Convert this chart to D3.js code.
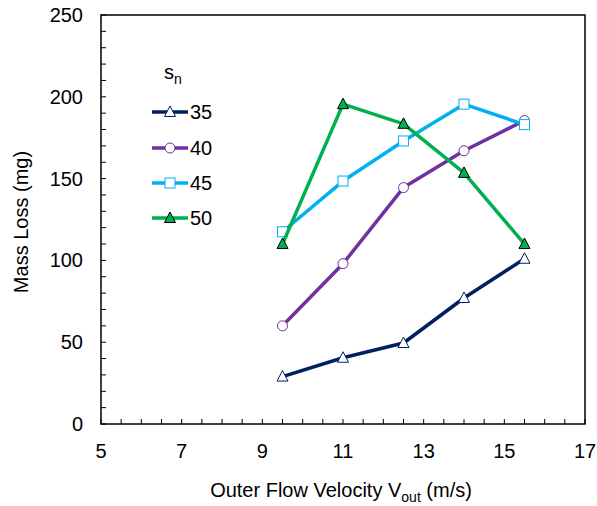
<!DOCTYPE html>
<html><head><meta charset="utf-8">
<script src="https://cdn.jsdelivr.net/npm/d3@7"></script>
<style>body{margin:0;background:#fff;} svg{display:block;font-family:"Liberation Sans",Arial,sans-serif;}</style>
</head><body>
<svg id="c" width="597" height="506"></svg>
<script>
const velocities = [9.5, 11, 12.5, 14, 15.5];
const sn35 = [29, 40.5, 49.5, 77, 101];
const sn40 = [60, 98, 144.5, 167, 185.5];
const sn45 = [117.5, 148.5, 173, 195.5, 183];
const sn50 = [110, 195.5, 183.5, 153.5, 110];
const seriesNames = ["35", "40", "45", "50"];
const xTicks = [5, 7, 9, 11, 13, 15, 17];
const yTicks = [0, 50, 100, 150, 200, 250];

const series = [
  {name: seriesNames[0], values: sn35, color: "#002060", marker: "tri", fill: "#fff"},
  {name: seriesNames[1], values: sn40, color: "#7030A0", marker: "circ", fill: "#fff"},
  {name: seriesNames[2], values: sn45, color: "#00B0F0", marker: "sq", fill: "#fff"},
  {name: seriesNames[3], values: sn50, color: "#00B050", marker: "tri", fill: "#00B050", stroke: "#000"}
];

const svg = d3.select("#c");
const L = 101, R = 585, T = 15, B = 424;
const x = d3.scaleLinear().domain([5, 17]).range([L, R]);
const y = d3.scaleLinear().domain([0, 250]).range([B, T]);

// minor ticks
const g = svg.append("g");
d3.range(5, 17.01, 0.5).forEach(v => {
  g.append("line").attr("x1", x(v)).attr("x2", x(v)).attr("y1", B).attr("y2", B - 5)
    .attr("stroke", "#000").attr("stroke-width", 1);
});
d3.range(0, 250.01, 10).forEach(v => {
  g.append("line").attr("x1", L).attr("x2", L + 5).attr("y1", y(v)).attr("y2", y(v))
    .attr("stroke", "#000").attr("stroke-width", 1);
});

// frame
svg.append("rect").attr("x", L).attr("y", T).attr("width", R - L).attr("height", B - T)
  .attr("fill", "none").attr("stroke", "#000").attr("stroke-width", 1.5);

// tick labels
svg.append("g").selectAll("text").data(xTicks).join("text")
  .attr("x", d => x(d)).attr("y", 458).attr("text-anchor", "middle")
  .attr("font-size", 20).attr("fill", "#000").text(d => d);
svg.append("g").selectAll("text").data(yTicks).join("text")
  .attr("x", 83).attr("y", d => y(d) + 7).attr("text-anchor", "end")
  .attr("font-size", 20).attr("fill", "#000").text(d => d);

// axis titles
const xt = svg.append("text").attr("x", 341).attr("y", 497).attr("text-anchor", "middle")
  .attr("font-size", 20).attr("fill", "#000");
xt.append("tspan").text("Outer Flow Velocity V");
xt.append("tspan").attr("font-size", 14).attr("dy", 5).text("out");
xt.append("tspan").attr("dy", -5).text(" (m/s)");

svg.append("text").attr("transform", "translate(28,222) rotate(-90)").attr("text-anchor", "middle")
  .attr("font-size", 20).attr("fill", "#000").text("Mass Loss (mg)");

function drawMarker(sel, s, cx, cy) {
  const stroke = s.stroke || s.color;
  if (s.marker === "tri") {
    const h = 10, w = 11;
    sel.append("path").attr("d", `M${cx},${cy - h * 0.6}L${cx + w / 2},${cy + h * 0.45}L${cx - w / 2},${cy + h * 0.45}Z`)
      .attr("fill", s.fill).attr("stroke", stroke).attr("stroke-width", 1);
  } else if (s.marker === "circ") {
    sel.append("circle").attr("cx", cx).attr("cy", cy).attr("r", 5)
      .attr("fill", s.fill).attr("stroke", stroke).attr("stroke-width", 1);
  } else {
    sel.append("rect").attr("x", cx - 5).attr("y", cy - 5).attr("width", 10).attr("height", 10)
      .attr("fill", s.fill).attr("stroke", stroke).attr("stroke-width", 1);
  }
}

const line = d3.line().x((d, i) => x(velocities[i])).y(d => y(d));
series.forEach(s => {
  const gs = svg.append("g");
  gs.append("path").attr("d", line(s.values)).attr("fill", "none")
    .attr("stroke", s.color).attr("stroke-width", 3.5).attr("stroke-linejoin", "round");
  s.values.forEach((v, i) => drawMarker(gs, s, x(velocities[i]), y(v)));
});

// legend
const lt = svg.append("text").attr("x", 164).attr("y", 79).attr("font-size", 20).attr("fill", "#000");
lt.append("tspan").text("s");
lt.append("tspan").attr("font-size", 14).attr("dy", 5).text("n");
const legY = [112, 148, 183, 218];
series.forEach((s, i) => {
  const gl = svg.append("g");
  gl.append("line").attr("x1", 152).attr("x2", 188).attr("y1", legY[i]).attr("y2", legY[i])
    .attr("stroke", s.color).attr("stroke-width", 3.5);
  drawMarker(gl, s, 170, legY[i]);
  gl.append("text").attr("x", 190).attr("y", legY[i] + 7).attr("font-size", 20).attr("fill", "#000").text(s.name);
});
</script>
</body></html>
